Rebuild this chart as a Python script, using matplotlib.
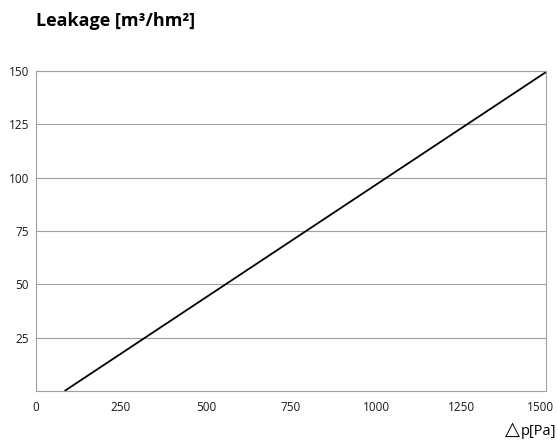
import matplotlib
matplotlib.use("Agg")
import matplotlib.pyplot as plt
import matplotlib.transforms as mtransforms

plt.rcParams['font.family'] = ['Open Sans', 'DejaVu Sans']

# Leakage vs pressure difference
pressure = [84, 1500]
leakage = [0, 149.5]

x_ticks = [0, 250, 500, 750, 1000, 1250, 1500]
y_ticks = [25, 50, 75, 100, 125, 150]

fig = plt.figure(figsize=(5.57, 4.42), dpi=100)
ax = fig.add_axes([36 / 557, 51 / 442, 510 / 557, 320 / 442])

ax.plot(pressure, leakage, color='black', lw=1.3, solid_capstyle='butt')

ax.set_xlim(0, 1500)
ax.set_ylim(0, 150)
ax.set_xticks(x_ticks)
ax.set_yticks(y_ticks)
ax.tick_params(length=0, labelsize=8.5, colors='#1a1a1a')
ax.tick_params(axis='x', pad=7)
ax.tick_params(axis='y', pad=5)
ax.grid(axis='y', color='#a0a0a0', lw=0.8)
for s in ax.spines.values():
    s.set_color('#a0a0a0')
    s.set_linewidth(0.8)

# keep the last x label inside the figure
last = ax.get_xticklabels()[-1]
last.set_transform(last.get_transform() +
                   mtransforms.ScaledTranslation(-6 / 100, 0, fig.dpi_scale_trans))

fig.text(36 / 557, 1 - 21 / 442, 'Leakage [m³/hm²]', fontsize=13,
         fontweight='bold', ha='left', va='center')
fig.text(556 / 557, 1 - 435 / 442, 'p[Pa]', fontsize=10.5,
         ha='right', va='baseline')
fig.text(520 / 557, 1 - 435 / 442, '△', fontsize=14, family='DejaVu Sans',
         ha='right', va='baseline')

fig.savefig('out.png', dpi=100)
